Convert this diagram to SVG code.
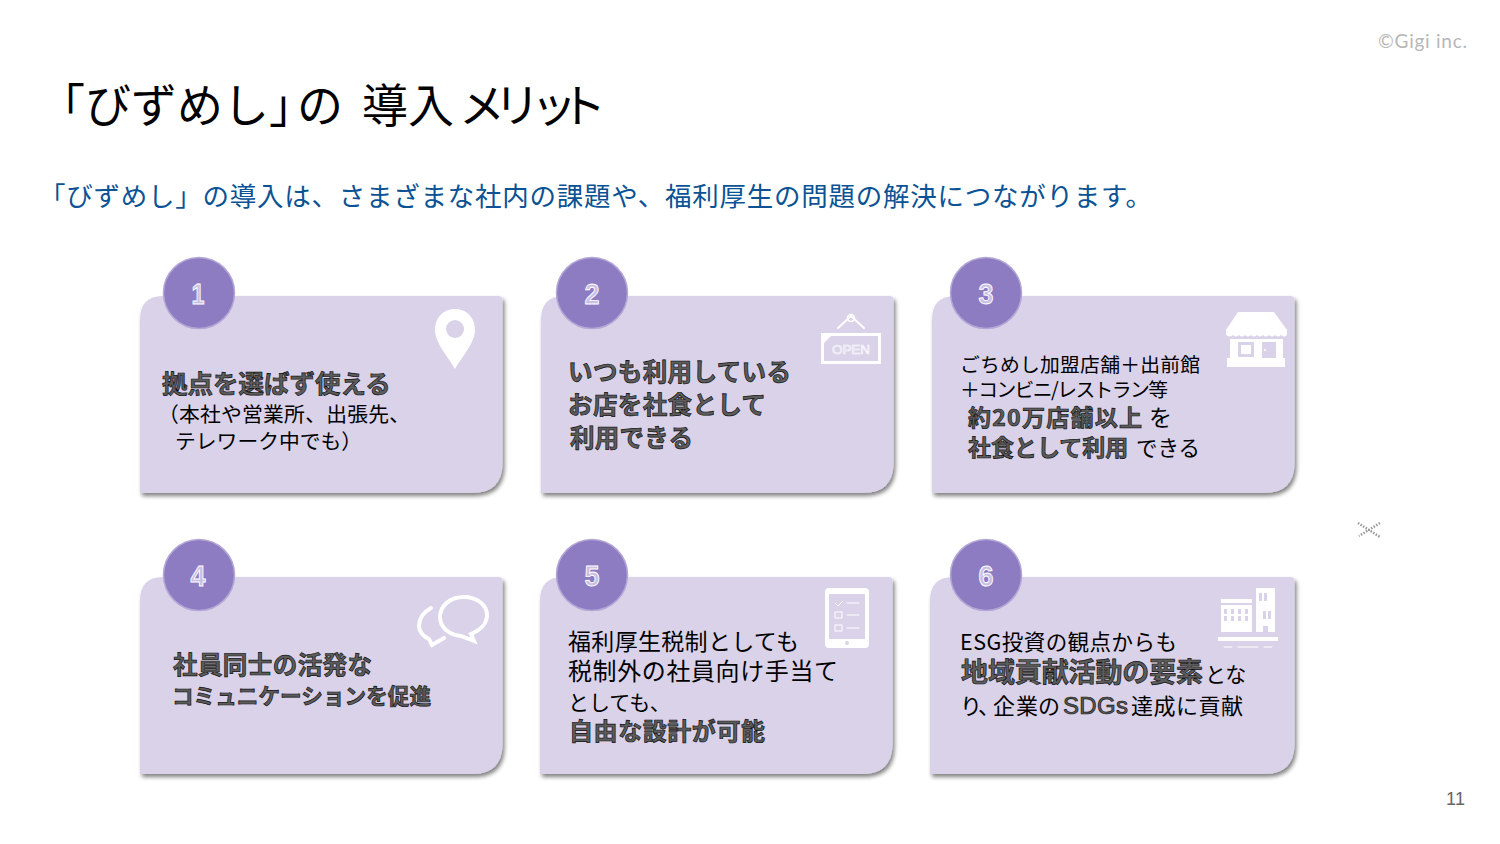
<svg xmlns="http://www.w3.org/2000/svg" width="1500" height="844" viewBox="0 0 1500 844">
<defs>
<filter id="sh" x="-5%" y="-5%" width="112%" height="115%"><feGaussianBlur in="SourceAlpha" stdDeviation="2"/><feOffset dx="1.500" dy="2.500"/><feComponentTransfer><feFuncA type="linear" slope="0.5"/></feComponentTransfer><feMerge><feMergeNode/><feMergeNode in="SourceGraphic"/></feMerge></filter>
<filter id="soft" x="-10%" y="-10%" width="120%" height="120%"><feGaussianBlur stdDeviation="0.4"/></filter>
</defs>
<style>
text{font-family:"Noto Sans CJK JP","Liberation Sans",sans-serif;fill:#000}
.card{fill:#d9d2e9;filter:url(#sh)}
.num{fill:#8e7cc3;stroke:#b4a7d6;stroke-width:1.5}
.n{font-family:"Liberation Sans",sans-serif;font-size:30px;font-weight:700;fill:#c9c0e4;stroke:#fff;stroke-width:.9;text-anchor:middle}
.b{fill:#5c5c5c;stroke:#111;stroke-width:.7;font-weight:700}
.ic{fill:#fff}
.icl{fill:none;stroke:#fff;stroke-linecap:round}
.hole{fill:#d9d2e9}
</style>
<rect width="1500" height="844" fill="#fff"/>
<text x="1378" y="48" font-size="19" style="font-family:Lato,sans-serif;fill:#b7b7b7" textLength="89">©Gigi inc.</text>
<text id="title" font-size="46" y="122" x="39 85 131 177 223 269 297 345 362 408 459 494 531 560">「びずめし」の 導入メリット</text>
<text id="subtitle" x="39" y="206" font-size="26.500" style="fill:#0b5394" textLength="1113">「びずめし」の導入は、さまざまな社内の課題や、福利厚生の問題の解決につながります。</text>

<g id="node1">
<path class="card" d="M163 296H498Q502.500 296 502.500 300V463Q502.500 493 472 493H140V320Q140 296 163 296Z"/>
<circle class="num" cx="199" cy="293" r="35.500"/><text class="n" x="198" y="304" textLength="13" lengthAdjust="spacingAndGlyphs">1</text>
<path class="ic" d="M455 309C442 309 435 319 435 330C435 343 449 358 455 369C461 358 475 343 475 330C475 319 468 309 455 309Z"/><circle class="hole" cx="455" cy="329" r="9"/>
<text class="b" x="162" y="393" font-size="25.500">拠点を選ばず使える</text>
<text x="158" y="422" font-size="20.800" textLength="252">（本社や営業所、出張先、</text>
<text x="175" y="449" font-size="20.800">テレワーク中でも）</text>
</g>

<g id="node2">
<path class="card" d="M564 296H889Q893.500 296 893.500 300V463Q893.500 493 863 493H541V320Q541 296 564 296Z"/>
<circle class="num" cx="592" cy="293" r="35.500"/><text class="n" x="592" y="304" textLength="15" lengthAdjust="spacingAndGlyphs">2</text>
<path class="icl" stroke-width="2" d="M838 328L851 316L864 328"/><circle cx="851" cy="318" r="3.500" fill="none" stroke="#fff" stroke-width="1.500"/>
<rect class="icl" stroke-width="3" x="822.500" y="334.500" width="57" height="28"/>
<path class="ic" d="M824 336H831L824 343Z"/>
<text x="851" y="354" font-size="13.500" text-anchor="middle" style="font-family:'Liberation Sans',sans-serif;fill:#d9d2e9;stroke:#fff;stroke-width:.6" textLength="38">OPEN</text>
<text class="b" x="568" y="381" font-size="24.500" textLength="223">いつも利用している</text>
<text class="b" x="568" y="414" font-size="24.500" textLength="198">お店を社食として</text>
<text class="b" x="570" y="447" font-size="24.500" textLength="123">利用できる</text>
</g>

<g id="node3">
<path class="card" d="M955 296H1290Q1294.500 296 1294.500 300V463Q1294.500 493 1264 493H932V320Q932 296 955 296Z"/>
<circle class="num" cx="986" cy="293" r="35.500"/><text class="n" x="986" y="304" textLength="15" lengthAdjust="spacingAndGlyphs">3</text>
<path class="ic" d="M1238 312H1274L1287 330H1226Z"/>
<path class="ic" d="M1226 329H1287V335Q1284 338 1281 335Q1278 338 1275 335Q1272 338 1269 335Q1266 338 1263 335Q1260 338 1257 335Q1254 338 1251 335Q1248 338 1245 335Q1242 338 1239 335Q1236 338 1233 335Q1230 338 1226 335Z"/>
<path class="ic" d="M1230 339H1283V358H1285V367H1227V358H1230Z"/>
<rect class="hole" x="1238" y="342" width="16" height="15"/><rect class="ic" x="1241" y="345" width="10" height="9"/><rect class="hole" x="1262" y="342" width="14" height="16"/><circle class="ic" cx="1265" cy="350" r="1"/>
<text x="960" y="372" font-size="19.800" textLength="240">ごちめし加盟店舗＋出前館</text>
<text x="960" y="397" font-size="19.800" textLength="208">＋コンビニ/レストラン等</text>
<text class="b" x="968" y="426" font-size="23" textLength="174">約20万店舗以上</text><text x="1149" y="426" font-size="23">を</text>
<text class="b" x="968" y="456" font-size="23">社食として利用</text><text x="1136" y="456" font-size="21.500">できる</text>
</g>

<g id="node4">
<path class="card" d="M163 577H498Q502.500 577 502.500 581V744Q502.500 774 472 774H140V601Q140 577 163 577Z"/>
<circle class="num" cx="199" cy="575" r="35.500"/><text class="n" x="198" y="586" textLength="15" lengthAdjust="spacingAndGlyphs">4</text>
<path class="icl" stroke-width="4" d="M464 597C450 597 440 606 440 617C440 628 450 635 461 636L474 641L471 634C481 630 487 623 487 615C487 605 477 597 464 597Z"/>
<path class="icl" stroke-width="4" d="M431 608C422 613 419 620 419 626C419 632 424 637 429 639L432 645L444 638"/>
<text class="b" x="173" y="674" font-size="24.500" textLength="199">社員同士の活発な</text>
<text class="b" x="172" y="704" font-size="21.600" textLength="259">コミュニケーションを促進</text>
</g>

<g id="node5">
<path class="card" d="M563 577H888Q892.500 577 892.500 581V744Q892.500 774 862 774H540V601Q540 577 563 577Z"/>
<circle class="num" cx="592" cy="575" r="35.500"/><text class="n" x="592" y="586" textLength="15" lengthAdjust="spacingAndGlyphs">5</text>
<rect class="ic" x="825" y="588" width="44" height="60" rx="4"/><rect class="hole" x="829" y="594" width="36" height="45"/><circle class="hole" cx="847" cy="643" r="2"/>
<path class="icl" stroke-width="1" d="M835 603L838 606L843 601M847 603H859M847 615H859M847 628H859"/><rect class="icl" stroke-width="1" x="835" y="612" width="7" height="6"/><rect class="icl" stroke-width="1" x="835" y="625" width="7" height="6"/>
<text x="568" y="650" font-size="23" textLength="231">福利厚生税制としても</text>
<text x="568" y="680" font-size="24" textLength="270">税制外の社員向け手当て</text>
<text x="568" y="710" font-size="21">としても、</text>
<text class="b" x="569" y="740" font-size="24" textLength="196">自由な設計が可能</text>
</g>

<g id="node6">
<path class="card" d="M953 577H1290Q1294.500 577 1294.500 581V744Q1294.500 774 1264 774H930V601Q930 577 953 577Z"/>
<circle class="num" cx="986" cy="575" r="35.500"/><text class="n" x="986" y="586" textLength="15" lengthAdjust="spacingAndGlyphs">6</text>
<rect class="ic" x="1221" y="599" width="31" height="33"/><rect class="hole" x="1221" y="603" width="31" height="2"/>
<rect class="ic" x="1256" y="588" width="19" height="44"/>
<path class="hole" d="M1224 609h3v5h-3zM1231 609h3v5h-3zM1238 609h3v5h-3zM1245 609h3v5h-3zM1224 616h3v5h-3zM1231 616h3v5h-3zM1238 616h3v5h-3zM1245 616h3v5h-3zM1259 593h3v8h-3zM1264 593h3v8h-3zM1263 611h3v8h-3zM1268 611h3v8h-3zM1263 626h5v6h-5z"/>
<rect class="ic" x="1218" y="637" width="60" height="4"/>
<path class="icl" stroke-width="1" d="M1224 647H1232M1238 647H1258M1264 647H1272"/>
<text x="960" y="650" font-size="21.500" textLength="217">ESG投資の観点からも</text>
<text class="b" x="961" y="682" font-size="27" textLength="242">地域貢献活動の要素</text><text x="1205" y="682" font-size="21">とな</text>
<text font-size="22" y="714" x="960 978 993 1016 1038">り、企業の</text>
<text class="b" x="1063" y="714" font-size="24" textLength="65" style="font-family:'Liberation Sans',sans-serif;font-weight:400">SDGs</text>
<text x="1131" y="714" font-size="22" textLength="112">達成に貢献</text>
</g>

<g id="mark" filter="url(#soft)"><path d="M1358 523L1380 537M1380 523L1359 536" fill="none" stroke="#999" stroke-width="2.500" stroke-dasharray="1.500 1.500"/></g>
<text x="1446" y="805" font-size="18" style="font-family:'Liberation Sans',sans-serif;fill:#666" textLength="19">11</text>
</svg>
